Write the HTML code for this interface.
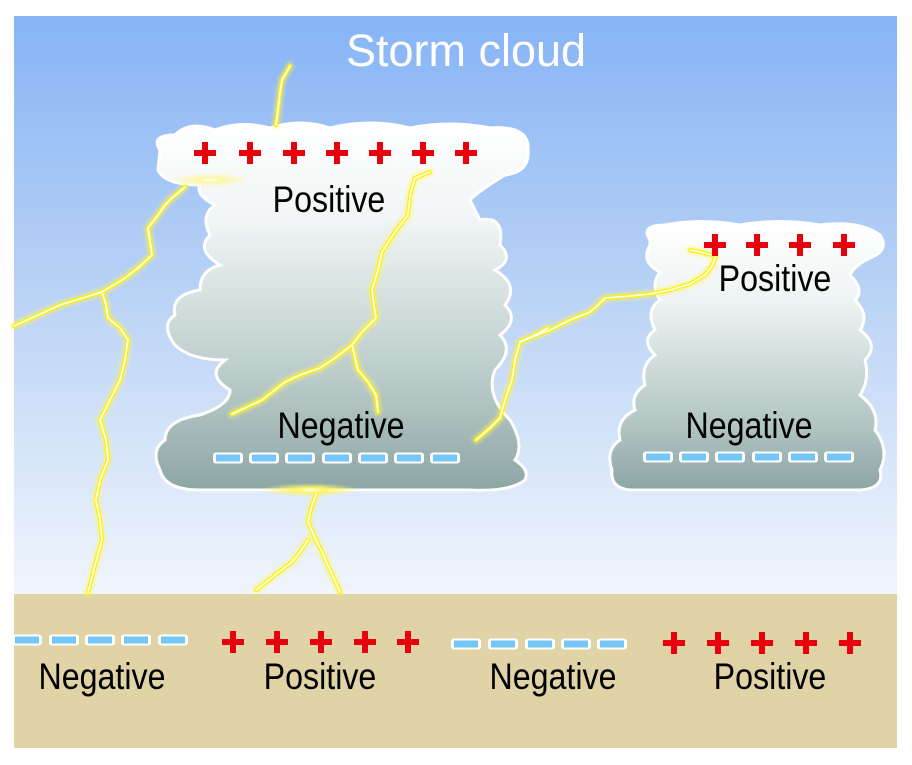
<!DOCTYPE html>
<html><head><meta charset="utf-8"><style>
html,body{margin:0;padding:0;background:#fff;}
svg{display:block}
.t{font-family:"Liberation Sans",sans-serif;fill:#000;}
</style></head><body>
<svg width="912" height="765" viewBox="0 0 912 765" xmlns="http://www.w3.org/2000/svg">
<defs>
<linearGradient id="sky" x1="0" y1="0" x2="0" y2="1">
<stop offset="0" stop-color="#86b4f6"/><stop offset="0.45" stop-color="#b7d1f5"/><stop offset="1" stop-color="#f1f6fd"/>
</linearGradient>
<linearGradient id="c1" x1="0" y1="0" x2="0" y2="1">
<stop offset="0" stop-color="#ffffff"/><stop offset="0.25" stop-color="#f2f6f6"/><stop offset="0.7" stop-color="#b9cbc9"/><stop offset="1" stop-color="#8da6a4"/>
</linearGradient>
<linearGradient id="c2" x1="0" y1="0" x2="0" y2="1">
<stop offset="0" stop-color="#ffffff"/><stop offset="0.3" stop-color="#eef3f3"/><stop offset="0.75" stop-color="#b3c6c4"/><stop offset="1" stop-color="#8ca5a3"/>
</linearGradient>
<radialGradient id="glow"><stop offset="0" stop-color="#ffffff"/><stop offset="0.3" stop-color="#fff56a"/><stop offset="1" stop-color="#fff56a" stop-opacity="0"/></radialGradient>
<filter id="bl"><feGaussianBlur stdDeviation="1.5"/></filter>
<g id="plus"><rect x="-11" y="-3" width="22" height="6" fill="#e8000d"/><rect x="-3" y="-11" width="6" height="22" fill="#e8000d"/></g>
<g id="dash"><rect x="-15" y="-5.5" width="30" height="11" rx="3" fill="#fff"/><rect x="-12" y="-3.5" width="24" height="7" fill="#74c6f7"/></g>
<g id="bolts">
<path d="M185,187 L172,198 L165,205 L158,215 L148,228 L150,242 L152,255 L138,268 L125,278 L102,292 L106,305 L108,318 L120,328 L128,340 L125,360 L120,380 L110,400 L100,420 L106,440 L108,460 L100,480 L96,500 L100,520 L102,540 L95,565 L88,593"/>
<path d="M102,292 L60,305 L14,326"/>
<path d="M290,66 L282,80 L280,92 L278,110 L276,125"/>
<path d="M430,172 L415,178 L410,195 L408,215 L395,232 L382,252 L378,270 L372,290 L374,305 L376,318 L362,332 L352,345 L355,358 L358,370 L368,382 L376,395 L378,412"/>
<path d="M352,345 L335,358 L320,368 L300,375 L285,382 L262,400 L232,414"/>
<path d="M318,490 L312,505 L308,522 L315,538 L322,552 L330,570 L340,592"/>
<path d="M308,540 L300,552 L292,562 L275,575 L256,590"/>
<path d="M476,440 L490,428 L500,418 L505,400 L512,380 L515,360 L520,342 L535,336 L550,330 L570,320 L590,312 L598,305 L605,298 L630,296 L650,294 L670,290 L690,284 L705,275 L712,266 L716,256 L700,252 L690,250"/>
<path d="M520,342 L535,335 L548,328"/>
</g>
</defs>
<rect x="14" y="16" width="883" height="580" fill="url(#sky)"/>
<rect x="14" y="594" width="883" height="154" fill="#e0d3a6"/>
<text x="466" y="66" text-anchor="middle" font-family="Liberation Sans, sans-serif" font-size="45" fill="#fff">Storm cloud</text>

<path d="M160,150 Q150,135 175,135 Q190,120 215,130 Q240,120 270,128 Q300,118 330,128 Q370,118 410,128 Q450,120 490,128 Q530,125 528,150 Q530,172 505,175 Q480,190 470,200 L480,220 Q505,215 500,245 Q515,260 495,270 Q520,285 505,305 Q520,320 500,335 Q515,350 495,370 Q485,395 510,420 Q525,445 515,460 Q530,470 525,480 Q510,492 470,490 L200,490 Q165,490 160,470 Q150,450 165,440 Q165,420 200,415 Q230,405 230,390 Q205,375 225,360 Q190,360 175,345 Q160,325 175,315 Q170,295 200,290 Q200,270 220,265 Q195,250 210,235 Q200,215 215,205 Q195,195 200,185 Q165,185 158,170 Z" fill="url(#c1)" stroke="#fff" stroke-width="3"/>
<path d="M650,240 Q640,225 665,225 Q700,218 740,225 Q780,218 820,225 Q860,220 880,235 Q890,250 870,258 Q855,265 850,275 Q865,290 855,300 Q870,315 860,330 Q880,345 865,360 Q870,380 860,395 Q880,410 875,430 Q890,450 880,470 Q885,488 860,490 L630,490 Q610,488 612,470 Q605,450 620,440 Q615,420 635,410 Q630,395 645,385 Q640,365 655,355 Q640,340 655,330 Q645,310 660,300 Q650,285 660,272 Q640,262 650,245 Z" fill="url(#c2)" stroke="#fff" stroke-width="3"/>

<g fill="none" stroke-linejoin="round" stroke-linecap="round">
<use href="#bolts" stroke="#fff45a" stroke-width="8" opacity="0.5" filter="url(#bl)"/>
<use href="#bolts" stroke="#fff200" stroke-width="4"/>
<use href="#bolts" stroke="#ffffff" stroke-width="1.6"/>
</g>
<ellipse cx="310" cy="490" rx="50" ry="7" fill="url(#glow)"/>
<ellipse cx="210" cy="180" rx="40" ry="7" fill="url(#glow)" opacity="0.6"/>

<g>
<use href="#plus" x="205" y="153"/><use href="#plus" x="250" y="153"/><use href="#plus" x="294" y="153"/><use href="#plus" x="337" y="153"/><use href="#plus" x="380" y="153"/><use href="#plus" x="423" y="153"/><use href="#plus" x="466" y="153"/>
<use href="#plus" x="715" y="245"/><use href="#plus" x="757" y="245"/><use href="#plus" x="800" y="245"/><use href="#plus" x="844" y="245"/>
<use href="#plus" x="233" y="642"/><use href="#plus" x="277" y="642"/><use href="#plus" x="321" y="642"/><use href="#plus" x="365" y="642"/><use href="#plus" x="408" y="642"/>
<use href="#plus" x="674" y="643"/><use href="#plus" x="718" y="643"/><use href="#plus" x="762" y="643"/><use href="#plus" x="806" y="643"/><use href="#plus" x="850" y="643"/>
<use href="#dash" x="228" y="458"/><use href="#dash" x="264" y="458"/><use href="#dash" x="300" y="458"/><use href="#dash" x="337" y="458"/><use href="#dash" x="373" y="458"/><use href="#dash" x="409" y="458"/><use href="#dash" x="445" y="458"/>
<use href="#dash" x="658" y="457"/><use href="#dash" x="694" y="457"/><use href="#dash" x="730" y="457"/><use href="#dash" x="767" y="457"/><use href="#dash" x="803" y="457"/><use href="#dash" x="839" y="457"/>
<use href="#dash" x="27" y="640"/><use href="#dash" x="64" y="640"/><use href="#dash" x="100" y="640"/><use href="#dash" x="136" y="640"/><use href="#dash" x="173" y="640"/>
<use href="#dash" x="466" y="644"/><use href="#dash" x="503" y="644"/><use href="#dash" x="540" y="644"/><use href="#dash" x="576" y="644"/><use href="#dash" x="612" y="644"/>
</g>

<g class="t" font-size="37">
<text transform="translate(329,212) scale(0.87,1)" text-anchor="middle">Positive</text>
<text transform="translate(341,438) scale(0.87,1)" text-anchor="middle">Negative</text>
<text transform="translate(775,291) scale(0.87,1)" text-anchor="middle">Positive</text>
<text transform="translate(749,438) scale(0.87,1)" text-anchor="middle">Negative</text>
<text transform="translate(102,689) scale(0.87,1)" text-anchor="middle">Negative</text>
<text transform="translate(320,689) scale(0.87,1)" text-anchor="middle">Positive</text>
<text transform="translate(553,689) scale(0.87,1)" text-anchor="middle">Negative</text>
<text transform="translate(770,689) scale(0.87,1)" text-anchor="middle">Positive</text>
</g>
</svg>
</body></html>
